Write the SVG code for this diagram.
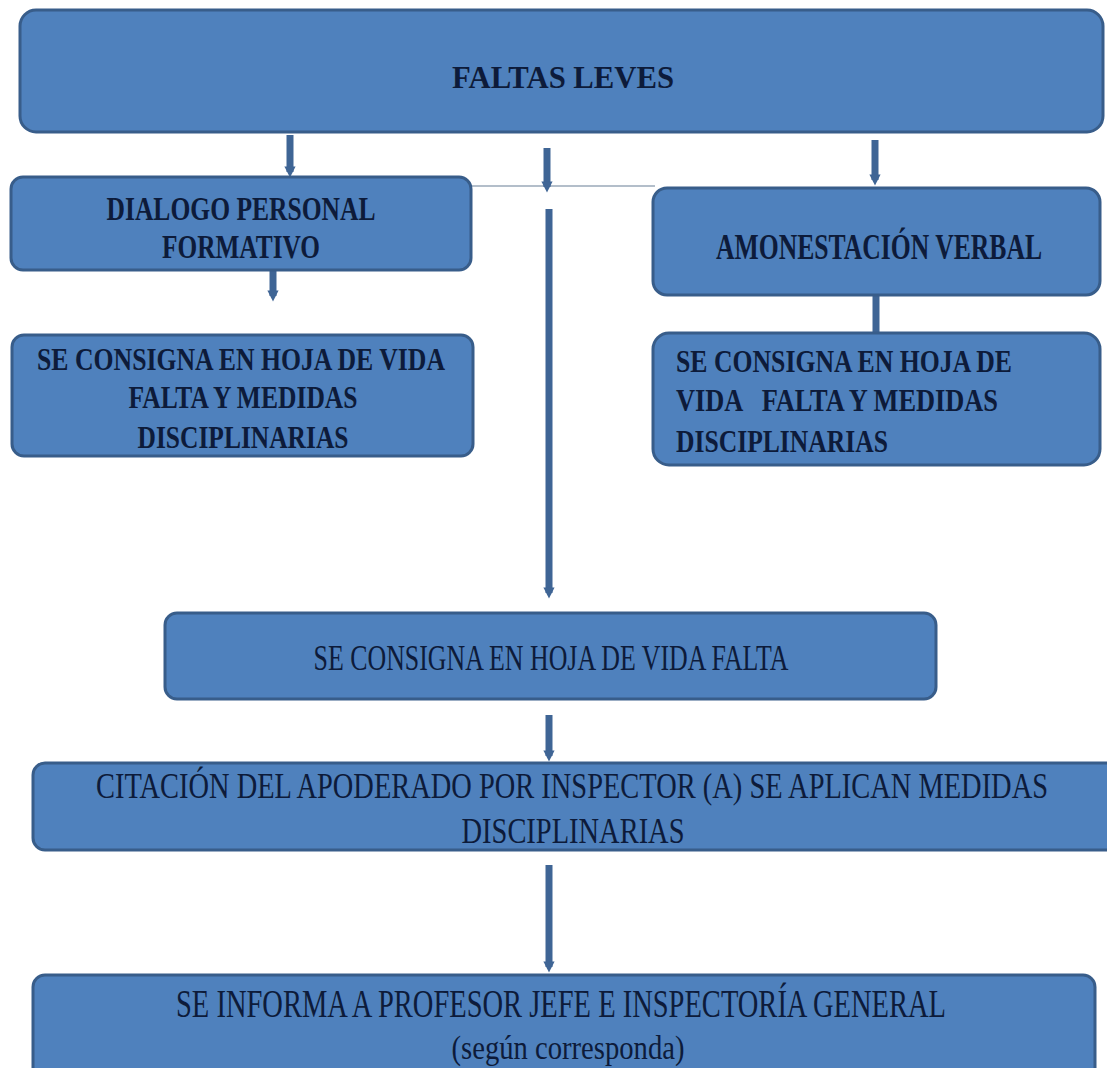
<svg xmlns="http://www.w3.org/2000/svg" width="1107" height="1068" viewBox="0 0 1107 1068">
<defs>
<style>
.box{fill:#4f81bd;stroke:#385d8a;stroke-width:3}
.t{font-family:"Liberation Serif","Times New Roman",serif;fill:#0d1b3a}
.b{font-weight:bold}
.c{stroke:#3f6595;stroke-width:7;fill:none}
.thin{stroke:#9aa8b8;stroke-width:1.5;fill:none}
</style>
<marker id="ah" viewBox="0 0 10 10" refX="5" refY="5" markerWidth="1.6" markerHeight="1.6" orient="auto">
<path d="M0,0 L10,5 L0,10 z" fill="#3f6595"/>
</marker>
</defs>
<rect width="1107" height="1068" fill="#ffffff"/>
<g id="connectors">
<line class="thin" x1="470" y1="186" x2="655" y2="186"/>
<line class="c" x1="290" y1="135" x2="290" y2="172" marker-end="url(#ah)"/>
<line class="c" x1="547" y1="148" x2="547" y2="187" marker-end="url(#ah)"/>
<line class="c" x1="875" y1="140" x2="875" y2="180" marker-end="url(#ah)"/>
<line class="c" x1="273" y1="270" x2="273" y2="296" marker-end="url(#ah)"/>
<line class="c" x1="876" y1="295" x2="876" y2="334"/>
<line class="c" x1="549" y1="209" x2="549" y2="593" marker-end="url(#ah)"/>
<line class="c" x1="549" y1="715" x2="549" y2="756" marker-end="url(#ah)"/>
<line class="c" x1="549" y1="865" x2="549" y2="967" marker-end="url(#ah)"/>
</g>
<g id="n1">
<rect class="box" x="20" y="10" width="1083" height="122" rx="16"/>
<text class="t b" x="563" y="88" font-size="31" text-anchor="middle" textLength="222" lengthAdjust="spacingAndGlyphs">FALTAS LEVES</text>
</g>
<g id="n2">
<rect class="box" x="11" y="177" width="460" height="93" rx="12"/>
<text class="t b" x="241" y="220" font-size="33" text-anchor="middle" textLength="269" lengthAdjust="spacingAndGlyphs">DIALOGO PERSONAL</text>
<text class="t b" x="241" y="258" font-size="33" text-anchor="middle" textLength="158" lengthAdjust="spacingAndGlyphs">FORMATIVO</text>
</g>
<g id="n3">
<rect class="box" x="653" y="188" width="447" height="107" rx="14"/>
<g transform="translate(879,259) scale(1,1.2)">
<text class="t b" x="0" y="0" font-size="30" text-anchor="middle" textLength="326" lengthAdjust="spacingAndGlyphs">AMONESTACIÓN VERBAL</text>
</g>
</g>
<g id="n4">
<rect class="box" x="12" y="335" width="461" height="121" rx="12"/>
<text class="t b" x="241" y="370" font-size="32" text-anchor="middle" textLength="408" lengthAdjust="spacingAndGlyphs">SE CONSIGNA EN HOJA DE VIDA</text>
<text class="t b" x="243" y="408" font-size="32" text-anchor="middle" textLength="229" lengthAdjust="spacingAndGlyphs">FALTA Y MEDIDAS</text>
<text class="t b" x="243" y="448" font-size="32" text-anchor="middle" textLength="211" lengthAdjust="spacingAndGlyphs">DISCIPLINARIAS</text>
</g>
<g id="n5">
<rect class="box" x="653" y="333" width="447" height="132" rx="16"/>
<text class="t b" x="676" y="372" font-size="32" textLength="336" lengthAdjust="spacingAndGlyphs">SE CONSIGNA EN HOJA DE</text>
<text class="t b" x="676" y="411" font-size="32" textLength="322" lengthAdjust="spacingAndGlyphs" xml:space="preserve">VIDA   FALTA Y MEDIDAS</text>
<text class="t b" x="676" y="452" font-size="32" textLength="212" lengthAdjust="spacingAndGlyphs">DISCIPLINARIAS</text>
</g>
<g id="n6">
<rect class="box" x="165" y="613" width="771" height="86" rx="12"/>
<text class="t" x="551" y="670" font-size="35" text-anchor="middle" textLength="475" lengthAdjust="spacingAndGlyphs">SE CONSIGNA EN HOJA DE VIDA FALTA</text>
</g>
<g id="n7">
<rect class="box" x="33" y="763" width="1090" height="87" rx="12"/>
<g transform="translate(572,798) scale(1,1.22)">
<text class="t" x="0" y="0" font-size="30" text-anchor="middle" textLength="952" lengthAdjust="spacingAndGlyphs">CITACIÓN DEL APODERADO POR INSPECTOR (A) SE APLICAN MEDIDAS</text>
</g>
<g transform="translate(573,843) scale(1,1.22)">
<text class="t" x="0" y="0" font-size="30" text-anchor="middle" textLength="223" lengthAdjust="spacingAndGlyphs">DISCIPLINARIAS</text>
</g>
</g>
<g id="n8">
<rect class="box" x="33" y="975" width="1062" height="115" rx="12"/>
<g transform="translate(561,1017) scale(1,1.25)">
<text class="t" x="0" y="0" font-size="32" text-anchor="middle" textLength="770" lengthAdjust="spacingAndGlyphs">SE INFORMA A PROFESOR JEFE E INSPECTORÍA GENERAL</text>
</g>
<text class="t" x="568" y="1059" font-size="33" text-anchor="middle" textLength="233" lengthAdjust="spacingAndGlyphs">(según corresponda)</text>
</g>
</svg>
